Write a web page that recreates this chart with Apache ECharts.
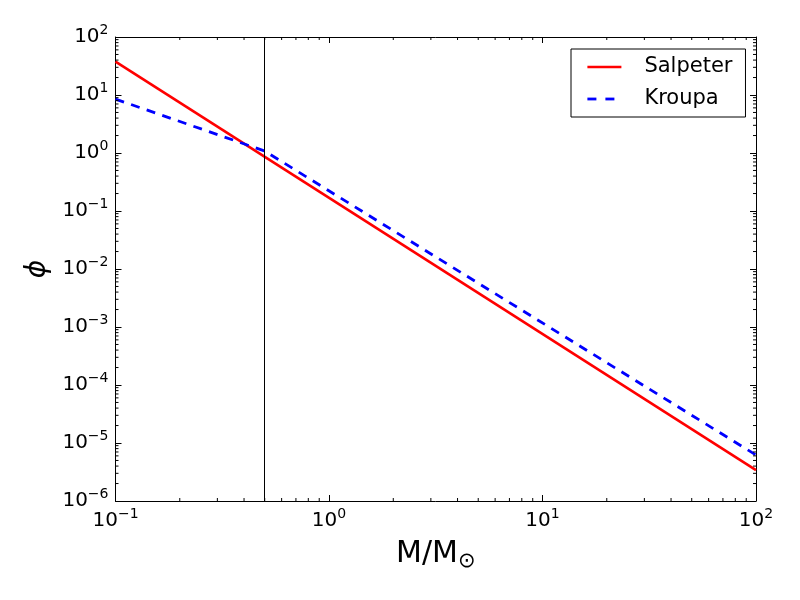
<!DOCTYPE html>
<html>
<head>
<meta charset="utf-8">
<script src="https://cdn.jsdelivr.net/npm/echarts@6/dist/echarts.min.js"></script>
<style>
  html, body { margin: 0; padding: 0; background: #fff; }
  #chart { width: 800px; height: 600px; }
</style>
</head>
<body>
<div id="chart"></div>
<script>
// values (log-log, straight segments)
const salpeterPts = [[0.1, 37.5], [100, 3.4e-6]];
const kroupaPts = [[0.1, 8.5], [0.5, 1.08], [100, 6.2e-6]];
const cutMass = 0.5;

const xRange = [0.1, 100];
const yRange = [1e-6, 100];

// minor tick positions (2..9 x 10^k)
function minorTicks(lo, hi) {
    let out = [];
    for (let k = lo; k < hi; k++) {
        for (let m = 2; m <= 9; m++) out.push(m * Math.pow(10, k));
    }
    return out;
}
const xMinor = minorTicks(-1, 2).map(v => [v, 1]);
const yMinor = minorTicks(-6, 2).map(v => [1, v]);

const font = 'DejaVu Sans';

function powLabel(v) {
    let e = Math.round(Math.log10(v));
    let s = e < 0 ? '\u2212' + (-e) : '' + e;
    return '{b|10}{s|' + s + '}';
}
const labelRich = {
    b: { fontSize: 20, lineHeight: 28, fontFamily: font, color: '#000' },
    s: { fontSize: 14, lineHeight: 14, verticalAlign: 'top', fontFamily: font, color: '#000' }
};

const axisLine = { show: true, lineStyle: { color: '#000', width: 1 } };

let chart = echarts.init(document.getElementById('chart'));

let option = {
    animation: false,
    backgroundColor: '#fff',
    grid: { left: 115.5, right: 44, top: 37, bottom: 99, containLabel: false },
    legend: {
        data: [
            { name: 'Salpeter', lineStyle: { width: 2.6, color: '#ff0000', type: 'solid' } },
            { name: 'Kroupa', lineStyle: { width: 2.8, color: '#0000ff', type: [9, 9] } }
        ],
        orient: 'vertical',
        left: 571,
        top: 49,
        padding: [7, 13, 7, 15],
        itemWidth: 34,
        itemHeight: 14,
        itemGap: 10,
        borderColor: '#000',
        borderWidth: 1,
        borderRadius: 0,
        backgroundColor: '#fff',
        itemStyle: { opacity: 0 },
        textStyle: { fontSize: 21, fontFamily: font, color: '#000', lineHeight: 22, padding: [0, 0, 0, 18] }
    },
    xAxis: [{
        type: 'log', logBase: 10, min: xRange[0], max: xRange[1], splitNumber: 3,
        name: 'M/M{o|\u2299}',
        nameLocation: 'middle', nameGap: 35,
        nameTextStyle: {
            fontSize: 30, fontFamily: font, color: '#000', lineHeight: 36,
            rich: { o: { fontSize: 21, fontFamily: font, color: '#000', lineHeight: 20, verticalAlign: 'bottom' } }
        },
        axisLine: axisLine,
        axisTick: { inside: true, length: 6, lineStyle: { color: '#000' } },
        axisLabel: { formatter: powLabel, rich: labelRich, margin: 6 },
        splitLine: { show: false }
    }, {
        type: 'log', logBase: 10, min: xRange[0], max: xRange[1], splitNumber: 3,
        position: 'top',
        axisLine: axisLine,
        axisTick: { inside: true, length: 6, lineStyle: { color: '#000' } },
        axisLabel: { show: false },
        splitLine: { show: false }
    }],
    yAxis: [{
        type: 'log', logBase: 10, min: yRange[0], max: yRange[1], splitNumber: 8,
        name: '\u03d5',
        nameLocation: 'middle', nameGap: 56,
        nameTextStyle: { fontSize: 28, fontFamily: font, fontStyle: 'italic', color: '#000' },
        axisLine: axisLine,
        axisTick: { inside: true, length: 6, lineStyle: { color: '#000' } },
        axisLabel: { formatter: powLabel, rich: labelRich, margin: 7 },
        splitLine: { show: false }
    }, {
        type: 'log', logBase: 10, min: yRange[0], max: yRange[1], splitNumber: 8,
        position: 'right',
        axisLine: axisLine,
        axisTick: { inside: true, length: 6, lineStyle: { color: '#000' } },
        axisLabel: { show: false },
        splitLine: { show: false }
    }],
    series: [
        {
            name: 'Salpeter', type: 'line', data: salpeterPts,
            symbol: 'none', color: '#ff0000',
            lineStyle: { color: '#ff0000', width: 2.6 },
            markLine: {
                silent: true, symbol: ['none', 'none'],
                label: { show: false },
                lineStyle: { color: '#000', width: 1, type: 'solid' },
                data: [{ xAxis: cutMass }]
            },
            z: 3
        },
        {
            name: 'Kroupa', type: 'line', data: kroupaPts,
            symbol: 'none', color: '#0000ff',
            lineStyle: { color: '#0000ff', width: 2.8, type: [9, 7.5] },
            z: 4
        },
        {
            type: 'custom', data: xMinor, silent: true, z: 5,
            renderItem: function (params, api) {
                let g = params.coordSys;
                let x = api.coord([api.value(0), 1])[0];
                let st = { stroke: '#000', lineWidth: 1 };
                return {
                    type: 'group', children: [
                        { type: 'line', shape: { x1: x, y1: g.y + g.height, x2: x, y2: g.y + g.height - 3 }, style: st },
                        { type: 'line', shape: { x1: x, y1: g.y, x2: x, y2: g.y + 3 }, style: st }
                    ]
                };
            }
        },
        {
            type: 'custom', data: yMinor, silent: true, z: 5,
            renderItem: function (params, api) {
                let g = params.coordSys;
                let y = api.coord([1, api.value(1)])[1];
                let st = { stroke: '#000', lineWidth: 1 };
                return {
                    type: 'group', children: [
                        { type: 'line', shape: { x1: g.x, y1: y, x2: g.x + 3, y2: y }, style: st },
                        { type: 'line', shape: { x1: g.x + g.width, y1: y, x2: g.x + g.width - 3, y2: y }, style: st }
                    ]
                };
            }
        }
    ]
};

chart.setOption(option);
</script>
</body>
</html>
